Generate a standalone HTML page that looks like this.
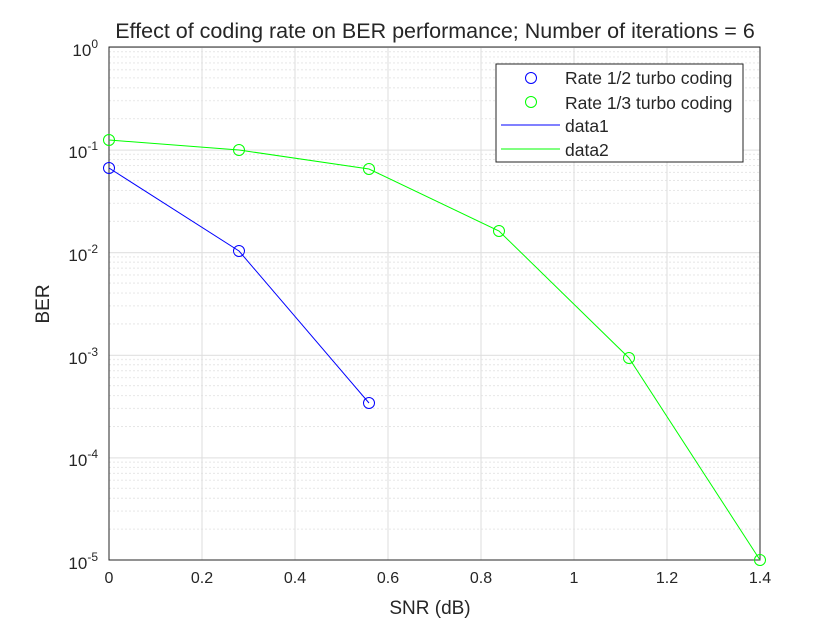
<!DOCTYPE html><html><head><style>body{margin:0;background:#fff}svg{display:block}text{font-family:"Liberation Sans",sans-serif;fill:#262626}</style></head><body>
<svg width="840" height="630" viewBox="0 0 840 630" xmlns="http://www.w3.org/2000/svg">
<defs><pattern id="mg" x="109" y="47" width="651" height="102.6" patternUnits="userSpaceOnUse">
<g stroke="#e6e6e6" stroke-width="1" stroke-dasharray="2,2">
<line x1="0" x2="651" y1="71.7" y2="71.7"/><line x1="0" x2="651" y1="53.7" y2="53.7"/><line x1="0" x2="651" y1="40.8" y2="40.8"/><line x1="0" x2="651" y1="30.9" y2="30.9"/><line x1="0" x2="651" y1="22.8" y2="22.8"/><line x1="0" x2="651" y1="15.9" y2="15.9"/><line x1="0" x2="651" y1="10" y2="10"/><line x1="0" x2="651" y1="4.7" y2="4.7"/></g>
<line x1="0" x2="651" y1="0.5" y2="0.5" stroke="#dedede"/></pattern></defs>
<rect x="109" y="47" width="651" height="513" fill="url(#mg)"/>
<g stroke="#dedede"><line x1="202" x2="202" y1="47" y2="560"/><line x1="295" x2="295" y1="47" y2="560"/><line x1="388" x2="388" y1="47" y2="560"/><line x1="481" x2="481" y1="47" y2="560"/><line x1="574" x2="574" y1="47" y2="560"/><line x1="667" x2="667" y1="47" y2="560"/></g>
<rect x="109" y="47" width="651" height="513" fill="none" stroke="#262626"/>
<polyline points="109,168 239,251 369,403" fill="none" stroke="#0000ff"/>
<polyline points="109,140 239,150 369,169 499,231 629,358 760,560" fill="none" stroke="#00ff00"/>
<g fill="none" stroke="#0000ff"><circle cx="109" cy="168" r="5.5"/><circle cx="239" cy="251" r="5.5"/><circle cx="369" cy="403" r="5.5"/></g>
<g fill="none" stroke="#00ff00"><circle cx="109" cy="140" r="5.5"/><circle cx="239" cy="150" r="5.5"/><circle cx="369" cy="169" r="5.5"/><circle cx="499" cy="231" r="5.5"/><circle cx="629" cy="358" r="5.5"/><circle cx="760" cy="560" r="5.5"/></g>
<g font-size="16" text-anchor="middle"><text x="109" y="583">0</text><text x="202" y="583">0.2</text><text x="295" y="583">0.4</text><text x="388" y="583">0.6</text><text x="481" y="583">0.8</text><text x="574" y="583">1</text><text x="667" y="583">1.2</text><text x="760" y="583">1.4</text></g>
<g font-size="17" text-anchor="end">
<text x="98" y="56">10<tspan dy="-8" font-size="12">0</tspan></text>
<text x="98" y="158">10<tspan dy="-8" font-size="12">-1</tspan></text>
<text x="98" y="261">10<tspan dy="-8" font-size="12">-2</tspan></text>
<text x="98" y="364">10<tspan dy="-8" font-size="12">-3</tspan></text>
<text x="98" y="466">10<tspan dy="-8" font-size="12">-4</tspan></text>
<text x="98" y="569">10<tspan dy="-8" font-size="12">-5</tspan></text></g>
<text x="430" y="614" font-size="19" text-anchor="middle">SNR (dB)</text>
<text transform="translate(49,304) rotate(-90)" font-size="19" text-anchor="middle">BER</text>
<text x="435" y="38" font-size="21.5" text-anchor="middle" fill="#000">Effect of coding rate on BER performance; Number of iterations = 6</text>
<rect x="496" y="64" width="247" height="98" fill="#fff" stroke="#262626"/>
<circle cx="531" cy="78" r="5.5" fill="none" stroke="#0000ff"/>
<circle cx="531" cy="102" r="5.5" fill="none" stroke="#00ff00"/>
<line x1="501" x2="560" y1="125" y2="125" stroke="#0000ff"/>
<line x1="501" x2="560" y1="149" y2="149" stroke="#00ff00"/>
<g font-size="17.5" fill="#000"><text x="565" y="84">Rate 1/2 turbo coding</text><text x="565" y="109">Rate 1/3 turbo coding</text><text x="565" y="132">data1</text><text x="565" y="156">data2</text></g>
</svg></body></html>
